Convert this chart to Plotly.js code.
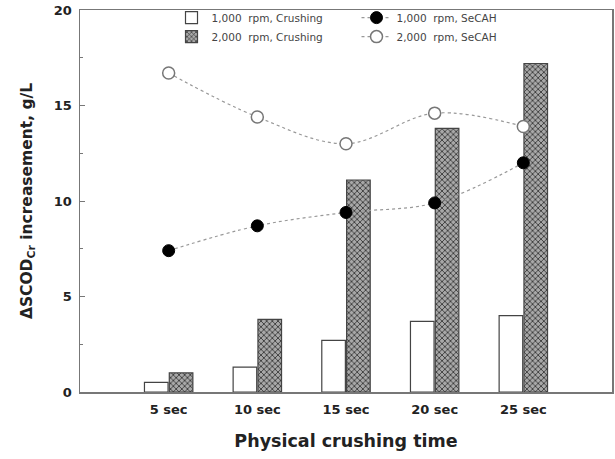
<!DOCTYPE html>
<html>
<head>
<meta charset="utf-8">
<script src="https://cdn.plot.ly/plotly-3.0.1.min.js"></script>
<style>html,body{margin:0;padding:0;background:#fff;}#chart{width:615px;height:459px;}</style>
</head>
<body>
<div id="chart"></div>
<script>
const categories = ["5 sec", "10 sec", "15 sec", "20 sec", "25 sec"];
const crush1000 = [0.5, 1.3, 2.7, 3.7, 4.0];
const crush2000 = [1.0, 3.8, 11.1, 13.8, 17.2];
const secah1000 = [7.4, 8.7, 9.4, 9.9, 12.0];
const secah2000 = [16.7, 14.4, 13.0, 14.6, 13.9];
const names = ["1,000  rpm, Crushing", "1,000  rpm, SeCAH", "2,000  rpm, Crushing", "2,000  rpm, SeCAH"];

const boldFont = "DejaVu Sans, Verdana, sans-serif";

const traces = [
  {type: "bar", x: categories, y: crush1000, name: names[0],
   marker: {color: "#ffffff", line: {color: "#444", width: 1.2}}},
  {type: "scatter", mode: "lines+markers", x: categories, y: secah1000, name: names[1],
   line: {color: "#999", dash: "dot", width: 1.2, shape: "spline"},
   marker: {color: "#000", size: 12, line: {color: "#000", width: 1}}},
  {type: "bar", x: categories, y: crush2000, name: names[2],
   marker: {color: "#a0a0a0", line: {color: "#444", width: 1.2},
            pattern: {shape: "x", fgcolor: "#2a2a2a", bgcolor: "#a8a8a8", size: 4, solidity: 0.35}}},
  {type: "scatter", mode: "lines+markers", x: categories, y: secah2000, name: names[3],
   line: {color: "#999", dash: "dot", width: 1.2, shape: "spline"},
   marker: {color: "#fff", size: 12, line: {color: "#777", width: 1.5}}}
];

const layout = {
  width: 615, height: 459,
  margin: {l: 80, r: 3, t: 10, b: 67},
  paper_bgcolor: "#fff", plot_bgcolor: "#fff",
  font: {family: "Liberation Sans, Arial, sans-serif", color: "#222"},
  barmode: "group", bargap: 0.44, bargroupgap: 0.05,
  showlegend: true,
  legend: {orientation: "h", x: 0.172, xanchor: "left", y: 1.018, yanchor: "top",
           entrywidth: 140, bgcolor: "rgba(255,255,255,0)", borderwidth: 0,
           font: {size: 10.5, color: "#444", family: "DejaVu Sans, sans-serif"}, traceorder: "normal", itemwidth: 30,
           tracegroupgap: 0},
  xaxis: {type: "category", range: [-1, 5], showline: true, linecolor: "#777", linewidth: 1.5,
          mirror: true, ticks: "", showgrid: false, zeroline: false, ticklabelstandoff: 5,
          tickfont: {size: 13, color: "#222", family: boldFont, weight: "bold"},
          title: {text: "<b>Physical crushing time</b>", font: {size: 17.5, color: "#222", family: boldFont}, standoff: 18}},
  yaxis: {range: [0, 20], tickvals: [0, 5, 10, 15, 20], showline: true, linecolor: "#777", linewidth: 1.5,
          mirror: true, ticks: "inside", ticklen: 5, tickcolor: "#777", showgrid: false, zeroline: false,
          minor: {tickvals: [2.5, 7.5, 12.5, 17.5], ticks: "inside", ticklen: 3, tickcolor: "#777"},
          tickfont: {size: 13, color: "#222", family: boldFont, weight: "bold"}, ticklabelstandoff: 4,
          title: {text: "<b>ΔSCOD<sub>Cr</sub> increasement, g/L</b>", font: {size: 15.5, color: "#222", family: boldFont}, standoff: 17}}
};

Plotly.newPlot("chart", traces, layout, {displayModeBar: false, staticPlot: true});
</script>
</body>
</html>
